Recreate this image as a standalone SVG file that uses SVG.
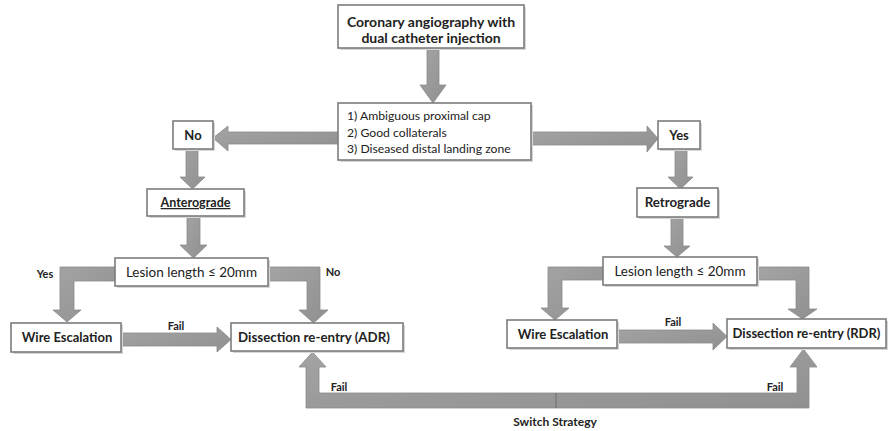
<svg xmlns="http://www.w3.org/2000/svg" width="890" height="431" viewBox="0 0 890 431">
<defs>
<style>
.box{fill:#fff;stroke:#7c7c7c;stroke-width:1.6}
.sh{fill:#d6d6d6}
.arr{fill:url(#g);stroke:#8a8a8a;stroke-width:0.8}
.t{font-family:Lato,"Open Sans","Liberation Sans",sans-serif;fill:#222}
.b{font-weight:bold}
.m{text-anchor:middle}
</style>
<linearGradient id="g" x1="0" y1="0" x2="1" y2="1">
<stop offset="0" stop-color="#a4a4a4"/>
<stop offset="1" stop-color="#909090"/>
</linearGradient>
</defs>
<rect width="890" height="431" fill="#fff"/>

<g id="connectors">
<path class="arr" d="M427,48 L439,48 L439,85 L446,85 L433,103 L420,85 L427,85 Z"/>
<path class="arr" d="M338,132 L228,132 L228,126 L213,138 L228,151 L228,144 L338,144 Z"/>
<path class="arr" d="M531,132 L647,132 L647,126 L658,138.5 L647,152 L647,145 L531,145 Z"/>
<path class="arr" d="M186,149 L198,149 L198,177 L205,177 L192.5,189 L180,177 L186,177 Z"/>
<path class="arr" d="M675,149 L687,149 L687,177 L693,177 L680.5,189 L668,177 L675,177 Z"/>
<path class="arr" d="M187,216 L200,216 L200,245 L207,245 L193.5,258 L180,245 L187,245 Z"/>
<path class="arr" d="M671,217 L683,217 L683,246 L690,246 L677,257 L664,246 L671,246 Z"/>
<path class="arr" d="M115,267 L60,267 L60,310 L53,310 L67,322 L81,310 L74,310 L74,281 L115,281 Z"/>
<path class="arr" d="M268,267 L320,267 L320,310 L328,310 L313.5,323 L299,310 L307,310 L307,281 L268,281 Z"/>
<path class="arr" d="M603,267 L548,267 L548,308 L541,308 L555,320 L569,308 L562,308 L562,280 L603,280 Z"/>
<path class="arr" d="M757,267 L809,267 L809,309 L817,309 L802.5,319 L788,309 L796,309 L796,280 L757,280 Z"/>
<path class="arr" d="M121,333 L217,333 L217,327 L231,339.5 L217,352 L217,346 L121,346 Z"/>
<path class="arr" d="M617,330 L713,330 L713,323 L727,336.5 L713,350 L713,343 L617,343 Z"/>
<path class="arr" d="M306,367 L299,367 L312.5,352 L326,367 L319,367 L319,393 L797,393 L797,367 L790,367 L803.5,349 L817,367 L809,367 L809,408 L306,408 Z"/>
<line x1="556" y1="393" x2="556" y2="408" stroke="#6e6e6e" stroke-width="1"/>
<text class="t b m" x="45" y="278" font-size="11">Yes</text>
<text class="t b m" x="333" y="276" font-size="11">No</text>
<text class="t b m" x="176" y="330" font-size="11">Fail</text>
<text class="t b m" x="673" y="326" font-size="11">Fail</text>
<text class="t b m" x="339" y="391" font-size="11">Fail</text>
<text class="t b m" x="775" y="391" font-size="11">Fail</text>
<text class="t b m" x="555" y="426" font-size="12">Switch Strategy</text>
</g>

<g id="n-top">
<rect class="sh" x="340" y="7" width="186" height="43"/>
<rect class="box" x="338" y="5" width="186" height="43"/>
<text class="t b m" x="431" y="27" font-size="14">Coronary angiography with</text>
<text class="t b m" x="431" y="43" font-size="14">dual catheter injection</text>
</g>

<g id="n-criteria">
<rect class="sh" x="340" y="105" width="193" height="57"/>
<rect class="box" x="338" y="103" width="193" height="57"/>
<text class="t" x="347" y="120" font-size="12.2">1) Ambiguous proximal cap</text>
<text class="t" x="347" y="137" font-size="12.2">2) Good collaterals</text>
<text class="t" x="347" y="153" font-size="12.2">3) Diseased distal landing zone</text>
</g>

<g id="n-no">
<rect class="sh" x="175" y="123" width="40" height="28"/>
<rect class="box" x="173" y="121" width="40" height="28"/>
<text class="t b m" x="193" y="140" font-size="13">No</text>
</g>

<g id="n-yes">
<rect class="sh" x="660" y="123" width="42" height="28"/>
<rect class="box" x="658" y="121" width="42" height="28"/>
<text class="t b m" x="679" y="140" font-size="13">Yes</text>
</g>

<g id="n-antero">
<rect class="sh" x="149" y="191" width="97" height="27"/>
<rect class="box" x="147" y="189" width="97" height="27"/>
<text class="t b m" x="195.5" y="207" font-size="12.5" text-decoration="underline">Anterograde</text>
</g>

<g id="n-retro">
<rect class="sh" x="639" y="190" width="81" height="29"/>
<rect class="box" x="637" y="188" width="81" height="29"/>
<text class="t b m" x="677.5" y="207" font-size="13.3">Retrograde</text>
</g>

<g id="n-lesion-l">
<rect class="sh" x="117" y="260" width="153" height="28"/>
<rect class="box" x="115" y="258" width="153" height="28"/>
<text class="t m" x="191.5" y="277" font-size="13.5">Lesion length ≤ 20mm</text>
</g>

<g id="n-lesion-r">
<rect class="sh" x="605" y="259" width="154" height="28"/>
<rect class="box" x="603" y="257" width="154" height="28"/>
<text class="t m" x="680" y="276" font-size="13.5">Lesion length ≤ 20mm</text>
</g>

<g id="n-wire-l">
<rect class="sh" x="13" y="325" width="110" height="29"/>
<rect class="box" x="11" y="323" width="110" height="29"/>
<text class="t b m" x="67" y="342" font-size="13">Wire Escalation</text>
</g>

<g id="n-adr">
<rect class="sh" x="233" y="325" width="172" height="28"/>
<rect class="box" x="231" y="323" width="172" height="28"/>
<text class="t b m" x="314" y="342" font-size="13.3">Dissection re-entry (ADR)</text>
</g>

<g id="n-wire-r">
<rect class="sh" x="509" y="322" width="110" height="28"/>
<rect class="box" x="507" y="320" width="110" height="28"/>
<text class="t b m" x="563" y="339" font-size="13">Wire Escalation</text>
</g>

<g id="n-rdr">
<rect class="sh" x="729" y="321" width="159" height="29"/>
<rect class="box" x="727" y="319" width="159" height="29"/>
<text class="t b m" x="806.5" y="338" font-size="13">Dissection re-entry (RDR)</text>
</g>
</svg>
